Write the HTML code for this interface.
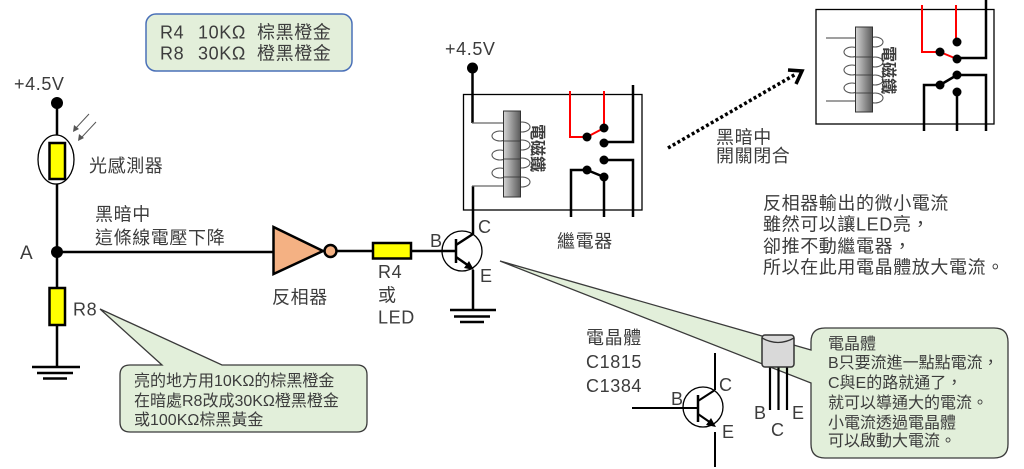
<!DOCTYPE html>
<html><head><meta charset="utf-8">
<style>
html,body{margin:0;padding:0;background:#fff;}
svg{display:block;}
text{font-family:"Liberation Sans","Noto Sans CJK TC",sans-serif;fill:#3c3c3c;}
.t18{font-size:18px;letter-spacing:0.6px;}
.t16{font-size:16px;}
.k{stroke:#000;stroke-width:2.5;fill:none;}
.thin{stroke:#000;stroke-width:1.3;fill:none;}
</style></head>
<body>
<svg width="1024" height="469" viewBox="0 0 1024 469" xmlns="http://www.w3.org/2000/svg">
<defs>
<linearGradient id="core" x1="0" x2="1" y1="0" y2="0">
<stop offset="0" stop-color="#d4d4d4"/><stop offset="1" stop-color="#5a5a5a"/>
</linearGradient>
</defs>

<!-- top info box -->
<rect x="146" y="14" width="206" height="57" rx="10" fill="#e3efda" stroke="#4a70b8" stroke-width="1.5"/>
<text class="t18" x="160" y="38.5">R4</text><text class="t18" x="198" y="38.5">10KΩ</text><text class="t18" x="257" y="38.5">棕黑橙金</text>
<text class="t18" x="160" y="59.5">R8</text><text class="t18" x="198" y="59.5">30KΩ</text><text class="t18" x="257" y="59.5">橙黑橙金</text>

<!-- left circuit -->
<text class="t18" x="14" y="90">+4.5V</text>
<circle cx="57" cy="103" r="6" fill="#000"/>
<line class="k" x1="57" y1="103" x2="57" y2="367"/>
<ellipse cx="56" cy="159.5" rx="18" ry="24.5" fill="#fff" stroke="#000" stroke-width="1.3"/>
<rect x="49.5" y="143" width="15.5" height="36" fill="#ffff00" stroke="#000" stroke-width="2.5"/>
<!-- light arrows -->
<line x1="89" y1="114" x2="76" y2="128" stroke="#555" stroke-width="1"/>
<polygon points="73,132 74,125 79,129" fill="#555"/>
<line x1="96" y1="122" x2="82" y2="137" stroke="#555" stroke-width="1"/>
<polygon points="78,141 79,134 84,138" fill="#555"/>
<text class="t18" x="89" y="172">光感測器</text>
<text class="t18" x="95" y="220.5">黑暗中</text>
<text class="t18" x="95" y="244">這條線電壓下降</text>
<text font-size="19" x="20" y="259">A</text>
<circle cx="57" cy="252" r="6" fill="#000"/>
<line class="k" x1="57" y1="252" x2="274" y2="252"/>
<rect x="49.5" y="288" width="15.5" height="37" fill="#ffff00" stroke="#000" stroke-width="2.5"/>
<line class="k" x1="32" y1="367" x2="80" y2="367"/>
<line class="k" x1="37" y1="373" x2="73" y2="373"/>
<line class="k" x1="43" y1="378.5" x2="67" y2="378.5"/>
<text class="t18" x="73" y="315.5">R8</text>

<!-- R8 callout -->
<path d="M130,365 L162,365 L100,309 L222,365 L357,365 Q367,365 367,375 L367,422 Q367,432 357,432 L130,432 Q120,432 120,422 L120,375 Q120,365 130,365 Z" fill="#e2efda" stroke="#3a3a3a" stroke-width="1.3"/>
<text class="t16" x="134" y="386">亮的地方用10KΩ的棕黑橙金</text>
<text class="t16" x="134" y="406">在暗處R8改成30KΩ橙黑橙金</text>
<text class="t16" x="134" y="425">或100KΩ棕黑黃金</text>

<!-- inverter -->
<polygon points="273.5,227 273.5,274 323,251" fill="#f4b183" stroke="#000" stroke-width="2.5" stroke-linejoin="miter"/>
<circle cx="330.5" cy="251" r="6" fill="#f4b183" stroke="#000" stroke-width="2.5"/>
<line class="k" x1="336.5" y1="251" x2="373" y2="251"/>
<text class="t18" x="272" y="303.5">反相器</text>
<rect x="373" y="243" width="38" height="15.5" fill="#ffff00" stroke="#000" stroke-width="2.5"/>
<line class="k" x1="411" y1="251" x2="456" y2="251"/>
<text class="t18" x="378" y="278">R4</text>
<text class="t18" x="378" y="301.5">或</text>
<text class="t18" x="378" y="323.5">LED</text>

<!-- transistor callout (under) -->
<path d="M825,328 L994,328 Q1008,328 1008,342 L1008,444 Q1008,458 994,458 L825,458 Q811,458 811,444 L811,383 L500,261 L811,350 L811,342 Q811,328 825,328 Z" fill="#e2efda" stroke="#3a3a3a" stroke-width="1.3"/>
<text class="t16" x="828" y="349">電晶體</text>
<text class="t16" x="828" y="368">B只要流進一點點電流，</text>
<text class="t16" x="828" y="388">C與E的路就通了，</text>
<text class="t16" x="828" y="408">就可以導通大的電流。</text>
<text class="t16" x="828" y="428">小電流透過電晶體</text>
<text class="t16" x="828" y="446">可以啟動大電流。</text>

<!-- transistor middle -->
<circle cx="462" cy="251" r="20" fill="none" stroke="#000" stroke-width="1.3"/>
<line class="k" x1="456" y1="239" x2="456" y2="263"/>
<line class="k" x1="456" y1="245" x2="473" y2="234"/>
<line class="k" x1="456" y1="257" x2="469" y2="266"/>
<polygon points="474,270 464,268 469,261" fill="#000"/>
<line class="k" x1="473" y1="186" x2="473" y2="234"/>
<line class="k" x1="473" y1="270" x2="473" y2="310"/>
<line class="k" x1="450" y1="310" x2="496" y2="310"/>
<line class="k" x1="454" y1="316.5" x2="490" y2="316.5"/>
<line class="k" x1="460" y1="322" x2="484" y2="322"/>
<text class="t18" x="430" y="247">B</text>
<text class="t18" x="478" y="233">C</text>
<text class="t18" x="480" y="282">E</text>

<!-- middle relay -->
<text class="t18" x="445" y="55">+4.5V</text>
<circle cx="472.5" cy="68" r="5.5" fill="#000"/>
<rect x="463.5" y="94.5" width="178.5" height="115.5" fill="none" stroke="#000" stroke-width="1.3"/>
<line class="k" x1="472.5" y1="68" x2="472.5" y2="123"/>
<line x1="472" y1="123" x2="504" y2="123" stroke="#666" stroke-width="1.2"/>
<line x1="472" y1="186" x2="504" y2="186" stroke="#666" stroke-width="1.2"/>
<g fill="none" stroke="#555" stroke-width="1.1">
<ellipse cx="500" cy="136" rx="8" ry="5"/><ellipse cx="500" cy="155" rx="8" ry="5"/><ellipse cx="500" cy="173" rx="8" ry="5"/>
<ellipse cx="522" cy="127" rx="8" ry="5"/><ellipse cx="522" cy="145" rx="8" ry="5"/><ellipse cx="522" cy="163" rx="8" ry="5"/><ellipse cx="522" cy="182" rx="8" ry="5"/>
</g>
<rect x="503.5" y="111" width="17" height="86" fill="url(#core)" stroke="#333" stroke-width="1"/>
<g stroke="#333" stroke-width="0.8"><line x1="504" y1="141" x2="520" y2="141"/><line x1="504" y1="159" x2="520" y2="159"/><line x1="504" y1="177" x2="520" y2="177"/></g>
<text transform="translate(532,124) rotate(90)" font-size="16" font-weight="bold">電磁鐵</text>
<g stroke="#ff0000" stroke-width="2" fill="none">
<polyline points="570,91 570,137 587,137"/><line x1="587" y1="137" x2="604" y2="128"/><line x1="604" y1="91" x2="604" y2="128"/>
</g>
<polyline class="k" points="604,142 633,142 633,85"/>
<polyline class="k" points="604,160 633,160 633,217"/>
<polyline class="k" points="587,170 571,170 571,217"/>
<line class="k" x1="587" y1="170" x2="604" y2="177"/>
<line class="k" x1="604" y1="177" x2="604" y2="217"/>
<g fill="#000"><circle cx="587" cy="137" r="4.5"/><circle cx="604" cy="128" r="4.5"/><circle cx="604" cy="143" r="4.5"/><circle cx="604" cy="160" r="4.5"/><circle cx="587" cy="170" r="4.5"/><circle cx="604" cy="177" r="4.5"/></g>
<text class="t18" x="557" y="247.5">繼電器</text>

<!-- dotted arrow -->
<line x1="668" y1="148" x2="796" y2="74" stroke="#000" stroke-width="3.5" stroke-dasharray="3,2.5"/>
<polyline points="788,70 802,71 796,84" fill="none" stroke="#000" stroke-width="3.5"/>
<text class="t18" x="716" y="143.5">黑暗中</text>
<text class="t18" x="716" y="162">開關閉合</text>

<!-- top-right relay -->
<rect x="816" y="9.5" width="178" height="114.5" fill="none" stroke="#000" stroke-width="1.3"/>
<line x1="826" y1="38" x2="856" y2="38" stroke="#666" stroke-width="1.2"/>
<line x1="826" y1="101" x2="856" y2="101" stroke="#666" stroke-width="1.2"/>
<g fill="none" stroke="#555" stroke-width="1.1">
<ellipse cx="852" cy="52" rx="8" ry="5"/><ellipse cx="852" cy="70" rx="8" ry="5"/><ellipse cx="852" cy="88" rx="8" ry="5"/>
<ellipse cx="875" cy="42" rx="8" ry="5"/><ellipse cx="875" cy="62" rx="8" ry="5"/><ellipse cx="875" cy="80" rx="8" ry="5"/><ellipse cx="875" cy="98" rx="8" ry="5"/>
</g>
<rect x="855.5" y="27" width="17" height="85" fill="url(#core)" stroke="#333" stroke-width="1"/>
<g stroke="#333" stroke-width="0.8"><line x1="856" y1="57" x2="872" y2="57"/><line x1="856" y1="75" x2="872" y2="75"/><line x1="856" y1="93" x2="872" y2="93"/></g>
<text transform="translate(883,46) rotate(90)" font-size="16" font-weight="bold">電磁鐵</text>
<g stroke="#ff0000" stroke-width="2" fill="none">
<polyline points="922,5 922,52 940,52"/><line x1="940" y1="52" x2="957" y2="59"/><line x1="956" y1="5" x2="956" y2="42"/>
</g>
<polyline class="k" points="957,58 986,58 986,0"/>
<polyline class="k" points="957,75 986,75 986,131"/>
<polyline class="k" points="940,85 924,85 924,131"/>
<line class="k" x1="940" y1="85" x2="957" y2="75"/>
<line class="k" x1="957" y1="92" x2="957" y2="131"/>
<g fill="#000"><circle cx="940" cy="52" r="4.5"/><circle cx="957" cy="42" r="4.5"/><circle cx="957" cy="59" r="4.5"/><circle cx="957" cy="75" r="4.5"/><circle cx="940" cy="85" r="4.5"/><circle cx="957" cy="92" r="4.5"/></g>

<!-- right explanation -->
<text class="t18" x="763" y="209.5">反相器輸出的微小電流</text>
<text class="t18" x="763" y="230.5">雖然可以讓LED亮，</text>
<text class="t18" x="763" y="252.5">卻推不動繼電器，</text>
<text class="t18" x="763" y="273.5">所以在此用電晶體放大電流。</text>

<!-- bottom transistor -->
<text class="t18" x="586" y="344">電晶體</text>
<text class="t18" x="586" y="368">C1815</text>
<text class="t18" x="586" y="392">C1384</text>
<circle cx="703" cy="407" r="20" fill="none" stroke="#000" stroke-width="1.3"/>
<line x1="632" y1="408" x2="698" y2="408" stroke="#000" stroke-width="2"/>
<line x1="698" y1="395" x2="698" y2="422" stroke="#000" stroke-width="2.5"/>
<line x1="698" y1="401" x2="715" y2="390" stroke="#000" stroke-width="2"/>
<line x1="715" y1="390" x2="715" y2="353" stroke="#000" stroke-width="2"/>
<line x1="698" y1="414" x2="711" y2="423" stroke="#000" stroke-width="2"/>
<polygon points="716,427 706,425 711,418" fill="#000"/>
<line x1="715" y1="432" x2="715" y2="467" stroke="#000" stroke-width="2"/>
<text class="t18" x="719" y="391">C</text>
<text class="t18" x="671" y="405">B</text>
<text class="t18" x="722" y="438">E</text>

<!-- TO-92 package -->
<g stroke="#000" stroke-width="2.2">
<line x1="770" y1="366" x2="770" y2="410"/><line x1="778.5" y1="366" x2="778.5" y2="410"/><line x1="787" y1="366" x2="787" y2="410"/>
</g>
<rect x="762" y="335" width="32" height="32" rx="3" fill="#d9d9d9" stroke="#333" stroke-width="1.5"/>
<path d="M762,338 Q778,347 794,338" fill="none" stroke="#333" stroke-width="1.3"/>
<text class="t18" x="754" y="419">B</text>
<text class="t18" x="771" y="436">C</text>
<text class="t18" x="792" y="419">E</text>
</svg>
</body></html>
